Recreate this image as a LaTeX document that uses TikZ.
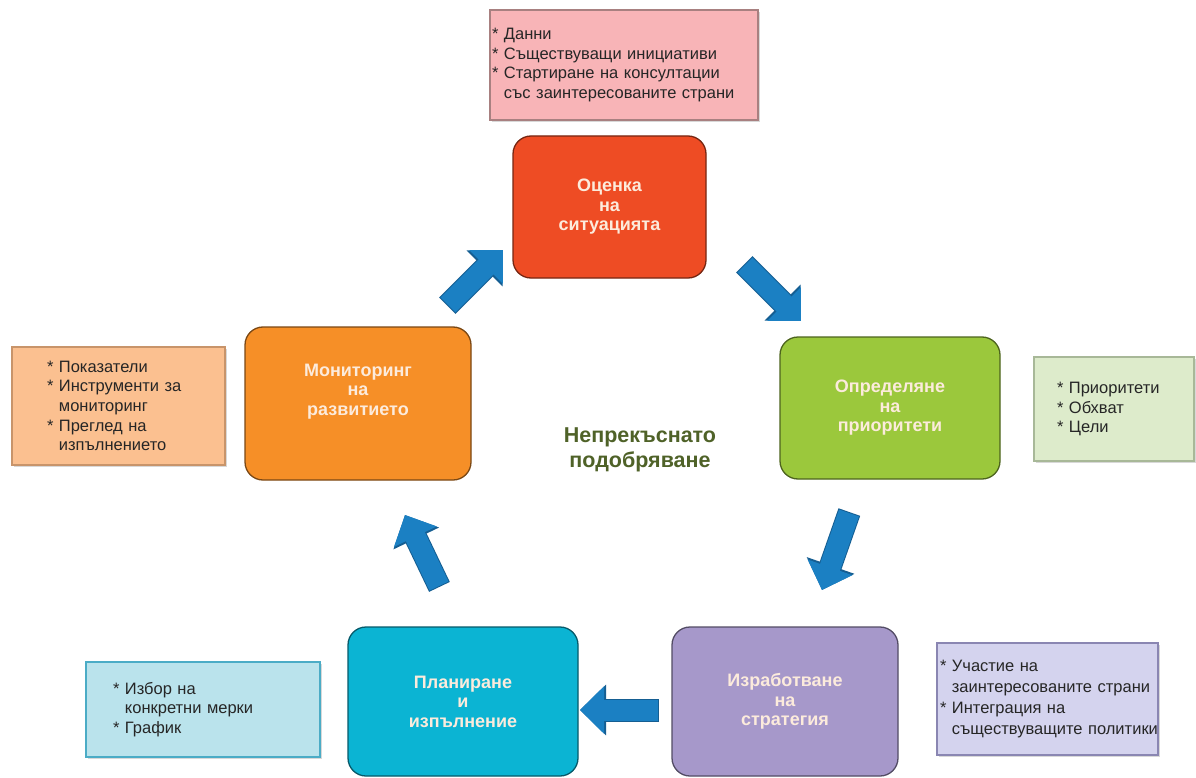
\documentclass[tikz,border=0pt]{standalone}
\usepackage{fontspec}
\setmainfont{Liberation Sans}
\usetikzlibrary{arrows.meta,shadows}
\definecolor{cRed}{HTML}{EE4C24}
\definecolor{cGreen}{HTML}{9BC83C}
\definecolor{cLav}{HTML}{A698CA}
\definecolor{cCyan}{HTML}{0BB4D3}
\definecolor{cOrange}{HTML}{F68F27}
\definecolor{cMainText}{HTML}{FCEBDC}
\definecolor{iPink}{HTML}{F8B4B7}
\definecolor{iOrange}{HTML}{FBC090}
\definecolor{iGreen}{HTML}{DDEBCB}
\definecolor{iLav}{HTML}{D4D3EE}
\definecolor{iCyan}{HTML}{BAE3EC}
\definecolor{bPink}{HTML}{A88080}
\definecolor{bOrange}{HTML}{C8946A}
\definecolor{bGreen}{HTML}{A8B898}
\definecolor{bLav}{HTML}{8A86B2}
\definecolor{bCyan}{HTML}{4BACC6}
\definecolor{cArrow}{HTML}{1B80C3}
\definecolor{cArrowDark}{HTML}{155E92}
\definecolor{cCentre}{HTML}{4F6228}
\begin{document}
\begin{tikzpicture}[x=1pt,y=-1pt,
  mainbox/.style={draw=#1!50!black, fill=#1, line width=1.3pt, rounded corners=18pt,
    text=cMainText, font=\bfseries\fontsize{18pt}{19.5pt}\selectfont, align=center, inner sep=0pt},
  infobox/.style n args={3}{draw=#2, fill=#1, line width=1.2pt, inner ysep=0pt, inner xsep=#3,
    text=black!85, font=\fontsize{16.5pt}{19.7pt}\selectfont, align=left,
    drop shadow={shadow xshift=2pt, shadow yshift=-2pt, opacity=0.3}},
  blk/.style={line width=21pt, draw=cArrow, -{Triangle[width=46pt,length=24pt]},
    preaction={draw=cArrowDark, line width=23pt, shorten <=-1pt, -{Triangle[width=49pt,length=26pt]}}}
]
\useasboundingbox (0,0) rectangle (1196,778);
\clip (0,0) rectangle (1196,778);
\fill[white] (0,0) rectangle (1196,778);

% main boxes
\node[mainbox=cRed, minimum width=193pt, minimum height=142pt] (oc) at (609.5,207) {Оценка\\на\\ситуацията};
\node[mainbox=cGreen, minimum width=220pt, minimum height=142pt] (op) at (890,408) {Определяне\\на\\приоритети};
\node[mainbox=cLav, minimum width=226pt, minimum height=149pt] (iz) at (785,701.5) {Изработване\\на\\стратегия};
\node[mainbox=cCyan, minimum width=230pt, minimum height=149pt] (pl) at (463,701.5) {Планиране\\и\\изпълнение};
\node[mainbox=cOrange, minimum width=226pt, minimum height=153pt, text depth=28pt] (mo) at (358,403.5) {Мониторинг\\на\\развитието};

% centre label
\node[text=cCentre, font=\bfseries\fontsize{21.5pt}{25pt}\selectfont, align=center] (ce) at (640,450) {Непрекъснато\\подобряване};

% info boxes
\node[infobox={iPink}{bPink}{2pt}, minimum width=268pt, minimum height=110pt, text width=264pt] (ipk) at (624,65)
  {\mbox{* Данни}\\\mbox{* Съществуващи инициативи}\\\mbox{* Стартиране на консултации}\\\mbox{\phantom{* }със заинтересованите страни}};
\node[infobox={iOrange}{bOrange}{35pt}, minimum width=213pt, minimum height=118pt, text width=143pt] (ior) at (118.5,406)
  {\mbox{* Показатели}\\\mbox{* Инструменти за}\\\mbox{\phantom{* }мониторинг}\\\mbox{* Преглед на}\\\mbox{\phantom{* }изпълнението}};
\node[infobox={iGreen}{bGreen}{23pt}, minimum width=160pt, minimum height=104pt, text width=114pt] (igr) at (1114,409)
  {\mbox{* Приоритети}\\\mbox{* Обхват}\\\mbox{* Цели}};
\node[infobox={iLav}{bLav}{3pt}, minimum width=221pt, minimum height=112pt, text width=215pt,
  font=\fontsize{16.5pt}{21pt}\selectfont] (ilv) at (1047.5,699)
  {\mbox{* Участие на}\\\mbox{\phantom{* }заинтересованите страни}\\\mbox{* Интеграция на}\\\mbox{\phantom{* }съществуващите политики}};
\node[infobox={iCyan}{bCyan}{27pt}, minimum width=234pt, minimum height=95pt, text width=180pt] (icy) at (203,709.5)
  {\mbox{* Избор на}\\\mbox{\phantom{* }конкретни мерки}\\\mbox{* График}};

% arrow end points
\coordinate (a1t) at (448,305); \coordinate (a1h) at (503,250);
\coordinate (a2t) at (745,265); \coordinate (a2h) at (801,321);
\coordinate (a3t) at (849,513); \coordinate (a3h) at (822,590);
\coordinate (a4t) at (658,710); \coordinate (a4h) at (580,710);
\coordinate (a5t) at (439,586); \coordinate (a5h) at (405,515);

\draw[blk] (a1t) -- (a1h);
\draw[blk] (a2t) -- (a2h);
\draw[blk] (a3t) -- (a3h);
\draw[blk] (a4t) -- (a4h);
\draw[blk] (a5t) -- (a5h);
\end{tikzpicture}
\end{document}
